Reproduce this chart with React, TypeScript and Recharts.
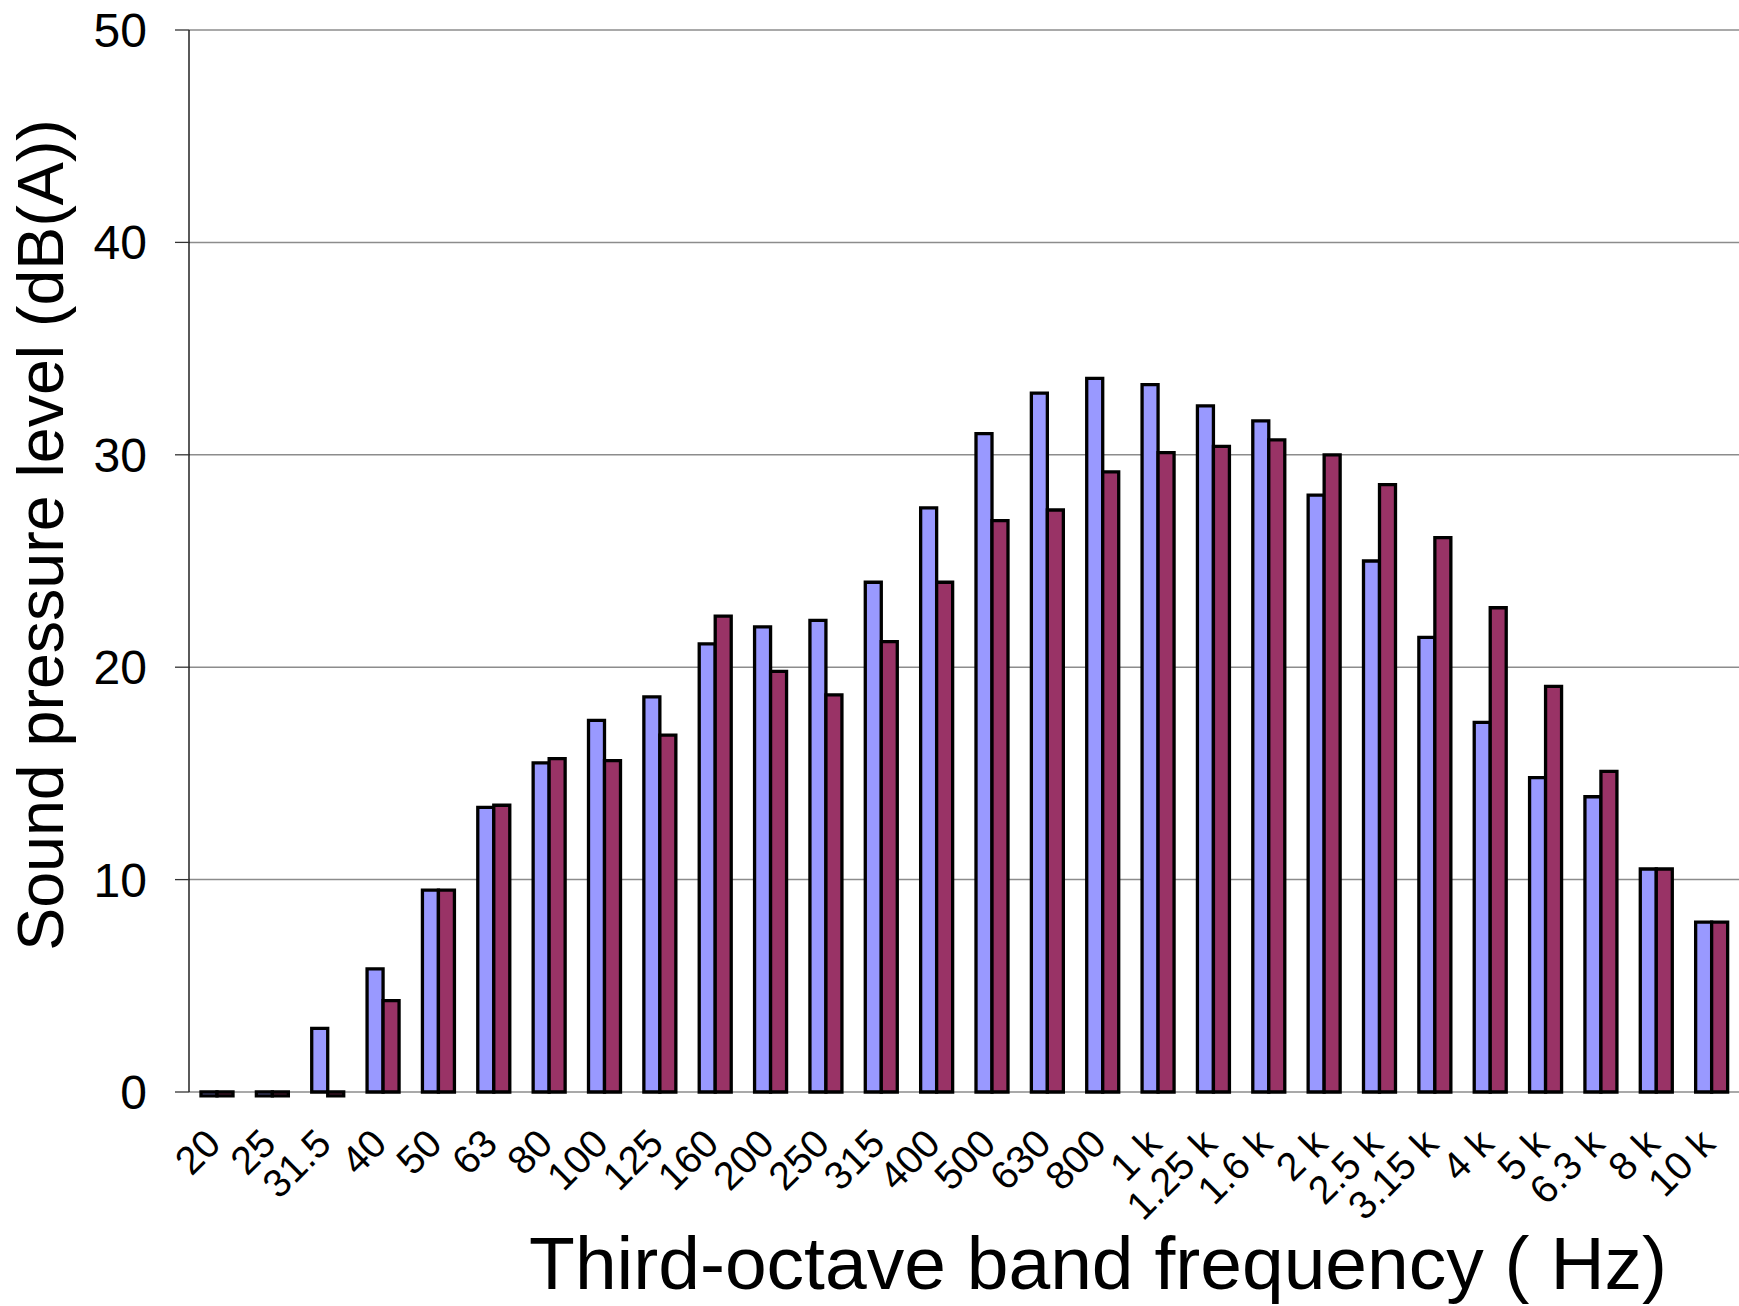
import React from 'react';
import { BarChart, Bar, XAxis, YAxis, CartesianGrid, Label } from 'recharts';

const categories = ['20', '25', '31.5', '40', '50', '63', '80', '100', '125', '160', '200', '250', '315', '400', '500', '630', '800', '1 k', '1.25 k', '1.6 k', '2 k', '2.5 k', '3.15 k', '4 k', '5 k', '6.3 k', '8 k', '10 k'];
const seriesBlue = [0, 0, 3.0, 5.8, 9.5, 13.4, 15.5, 17.5, 18.6, 21.1, 21.9, 22.2, 24.0, 27.5, 31.0, 32.9, 33.6, 33.3, 32.3, 31.6, 28.1, 25.0, 21.4, 17.4, 14.8, 13.9, 10.5, 8.0];
const seriesRed = [0, 0, 0, 4.3, 9.5, 13.5, 15.7, 15.6, 16.8, 22.4, 19.8, 18.7, 21.2, 24.0, 26.9, 27.4, 29.2, 30.1, 30.4, 30.7, 30.0, 28.6, 26.1, 22.8, 19.1, 15.1, 10.5, 8.0];
const yTicks = [0, 10, 20, 30, 40, 50];
const xTitle = 'Third-octave band frequency ( Hz)';
const yTitle = 'Sound pressure level (dB(A))';

const data = categories.map((band, i) => ({ band, blue: seriesBlue[i], red: seriesRed[i] }));
const edgeTicks = [...categories.map((_, i) => i), categories.length];

const FONT = '"Liberation Sans", Arial, Helvetica, sans-serif';

const BandTick = (props: any) => {
  const { x, y, payload } = props;
  const ax = x + 6;
  return (
    <text x={ax} y={y} textAnchor="end" transform={`rotate(-45 ${ax} ${y})`} fontSize={39.5} fontFamily={FONT} fill="#000">
      {payload.value}
    </text>
  );
};

const XTitle = (props: any) => {
  const vb = props.viewBox;
  const x = vb.x + vb.width * 0.5865;
  const y = vb.y + 197;
  return (
    <text x={x} y={y} textAnchor="middle" fontSize={75} fontFamily={FONT} fill="#000">
      {xTitle}
    </text>
  );
};

const YTitle = (props: any) => {
  const vb = props.viewBox;
  const x = vb.x + 63;
  const y = vb.y + vb.height / 2 - 26;
  return (
    <text x={x} y={y} textAnchor="middle" transform={`rotate(-90 ${x} ${y})`} fontSize={64.5} fontFamily={FONT} fill="#000">
      {yTitle}
    </text>
  );
};

export default function App() {
  return (
    <div style={{ position: 'absolute', left: 0, top: 0, background: '#fff' }}>
      <BarChart
        width={1739}
        height={1306}
        data={data}
        margin={{ top: 30, right: 0, bottom: 0, left: 0 }}
        barGap={0}
        barSize={16}
      >
        <CartesianGrid xAxisId="cat" vertical={false} stroke="#8c8c8c" strokeWidth={1.5} />
        <XAxis
          xAxisId="edges"
          type="number"
          domain={[0, categories.length]}
          ticks={edgeTicks}
          allowDataOverflow
          interval={0}
          tick={false}
          tickSize={13}
          height={0}
          axisLine={{ stroke: '#808080', strokeWidth: 1.5 }}
          tickLine={{ stroke: '#555', strokeWidth: 1.5 }}
        />
        <XAxis
          xAxisId="cat"
          dataKey="band"
          type="category"
          height={214}
          axisLine={false}
          tickLine={false}
          tickSize={0}
          tickMargin={54}
          interval={0}
          tick={<BandTick />}
        >
          <Label content={<XTitle />} />
        </XAxis>
        <YAxis
          width={189}
          type="number"
          domain={[0, 50]}
          ticks={yTicks}
          interval={0}
          tickSize={14}
          tickMargin={28}
          axisLine={{ stroke: '#000', strokeWidth: 1.3 }}
          tickLine={{ stroke: '#333', strokeWidth: 1.3 }}
          tick={{ fontSize: 48, fill: '#000', fontFamily: FONT }}
        >
          <Label content={<YTitle />} />
        </YAxis>
        <Bar xAxisId="cat" dataKey="blue" fill="#9999FF" stroke="#000" strokeWidth={3.3} minPointSize={-3.8} isAnimationActive={false} />
        <Bar xAxisId="cat" dataKey="red" fill="#993366" stroke="#000" strokeWidth={3.3} minPointSize={-3.8} isAnimationActive={false} />
      </BarChart>
    </div>
  );
}
